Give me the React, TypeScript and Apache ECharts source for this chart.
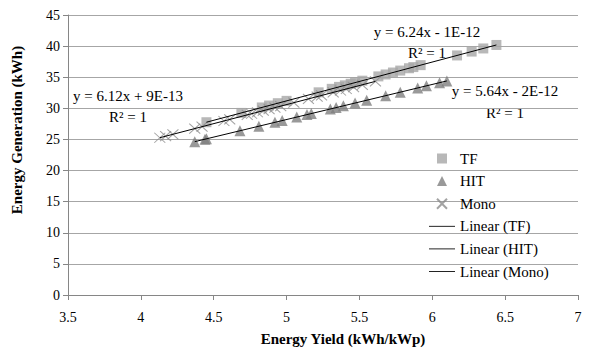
import React, { useEffect, useRef } from "react";
import * as echarts from "echarts";

const tfYield = [4.45, 4.69, 4.83, 4.88, 4.94, 5.0, 5.22, 5.31, 5.36, 5.4, 5.44, 5.47, 5.52, 5.63, 5.68, 5.73, 5.78, 5.84, 5.87, 5.92, 6.17, 6.27, 6.35, 6.44];
const hitYield = [4.37, 4.44, 4.45, 4.68, 4.81, 4.92, 4.97, 5.07, 5.14, 5.17, 5.3, 5.34, 5.39, 5.47, 5.55, 5.68, 5.78, 5.9, 5.96, 6.05, 6.1];
const monoYield = [4.13, 4.17, 4.22, 4.37, 4.42, 4.57, 4.61, 4.73, 4.76, 4.8, 4.84, 4.88, 4.92, 4.96, 5.05, 5.15, 5.21, 5.24, 5.32, 5.37, 5.41, 5.46, 5.52, 5.61];

const tfSlope = 6.24;
const hitSlope = 5.64;
const monoSlope = 6.12;

const xTicks = [3.5, 7, 0.5];
const yTicks = [0, 45, 5];

const FONT = "Liberation Serif";

function pts(xs: number[], k: number) {
  return xs.map((x) => [x, +(x * k).toFixed(3)]);
}
function trend(xs: number[], k: number) {
  const lo = Math.min(...xs);
  const hi = Math.max(...xs);
  return [[lo, lo * k], [hi, hi * k]];
}

const lineIcon = "path://M0,0 H30 V1 H0 Z";
const squareIcon = "path://M0,0 H10 V10 H0 Z";
const triIcon = "path://M5,0 L10,10 L0,10 Z";

export default function App() {
  const ref = useRef<HTMLDivElement>(null);
  useEffect(() => {
    document.body.style.margin = "0";
    const chart = echarts.init(ref.current!, null, { renderer: "svg" });
    const crossPath = "path://M0,0 L10,10 M10,0 L0,10";
    const txt = (text: string, x: number, y: number, extra: any = {}) => ({
      type: "text",
      x,
      y,
      ...extra,
      style: {
        text,
        fill: "#000",
        font: `${extra.fontWeight || "normal"} ${extra.fontSize || 15}px ${FONT}`,
        align: "center",
        verticalAlign: "middle",
      },
    });
    chart.setOption({
      animation: false,
      backgroundColor: "#ffffff",
      grid: { left: 68, right: 20, top: 15, bottom: 54 },
      xAxis: {
        type: "value",
        min: xTicks[0],
        max: xTicks[1],
        interval: xTicks[2],
        axisLine: { show: true, lineStyle: { color: "#868686", width: 1 } },
        axisTick: { show: true, length: 5, lineStyle: { color: "#868686" } },
        splitLine: { show: false },
        axisLabel: { color: "#000", fontFamily: FONT, fontSize: 14, margin: 15 },
      },
      yAxis: {
        type: "value",
        min: yTicks[0],
        max: yTicks[1],
        interval: yTicks[2],
        axisLine: { show: true, lineStyle: { color: "#868686", width: 1 } },
        axisTick: { show: true, length: 5, lineStyle: { color: "#868686" } },
        splitLine: { show: true, lineStyle: { color: "#a6a6a6", width: 1 } },
        axisLabel: { color: "#000", fontFamily: FONT, fontSize: 14, margin: 8 },
      },
      legend: {
        orient: "vertical",
        left: 429,
        top: 151,
        padding: 0,
        itemWidth: 26,
        itemHeight: 10,
        itemGap: 7.6,
        textStyle: { color: "#000", fontFamily: FONT, fontSize: 15 },
        data: [
          { name: "TF", icon: squareIcon },
          { name: "HIT", icon: triIcon },
          { name: "Mono" },
          { name: "Linear (TF)", icon: lineIcon },
          { name: "Linear (HIT)", icon: lineIcon },
          { name: "Linear (Mono)", icon: lineIcon },
        ],
      },
      series: [
        {
          name: "TF",
          type: "scatter",
          symbol: "rect",
          symbolSize: 10,
          itemStyle: { color: "#a6a6a6" },
          data: pts(tfYield, tfSlope),
        },
        {
          name: "HIT",
          type: "scatter",
          symbol: "triangle",
          symbolSize: 11,
          itemStyle: { color: "#808080" },
          data: pts(hitYield, hitSlope),
        },
        {
          name: "Mono",
          type: "scatter",
          symbol: crossPath,
          symbolSize: [11, 10],
          itemStyle: { color: "transparent", borderColor: "#8c8c8c", borderWidth: 1 },
          data: pts(monoYield, monoSlope),
        },
        {
          name: "Linear (TF)",
          type: "line",
          symbol: "none",
          lineStyle: { color: "#000", width: 1 },
          itemStyle: { color: "#000" },
          data: trend(tfYield, tfSlope),
          z: 3,
        },
        {
          name: "Linear (HIT)",
          type: "line",
          symbol: "none",
          lineStyle: { color: "#000", width: 1 },
          itemStyle: { color: "#000" },
          data: trend(hitYield, hitSlope),
          z: 3,
        },
        {
          name: "Linear (Mono)",
          type: "line",
          symbol: "none",
          lineStyle: { color: "#000", width: 1 },
          itemStyle: { color: "#000" },
          data: trend(monoYield, monoSlope),
          z: 3,
        },
      ],
      graphic: [
        txt("y = 6.24x - 1E-12", 427, 32),
        txt("R² = 1", 427, 53),
        txt("y = 6.12x + 9E-13", 128, 96),
        txt("R² = 1", 128, 117),
        txt("y = 5.64x - 2E-12", 505, 91),
        txt("R² = 1", 505, 113),
        txt("Energy Yield (kWh/kWp)", 343, 339, { fontWeight: "bold", fontSize: 15 }),
        txt("Energy Generation (kWh)", 17, 130, { fontWeight: "bold", fontSize: 15, rotation: Math.PI / 2 }),
      ],
    });
    return () => chart.dispose();
  }, []);
  return <div ref={ref} style={{ width: 598, height: 349 }} />;
}
